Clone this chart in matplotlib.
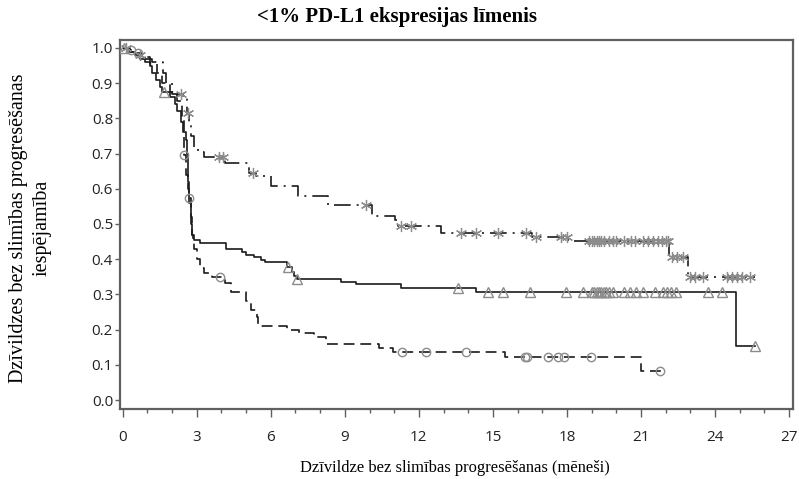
import numpy as np
import matplotlib
matplotlib.use("Agg")
import matplotlib.pyplot as plt
from matplotlib.ticker import MultipleLocator

# ---- data: Kaplan-Meier step curves (time in months, survival after step) ----
dd_t = [0, 0.3, 0.6, 0.9, 1.2, 1.65, 1.75, 2.0, 2.45, 2.6, 2.7, 2.75, 2.9, 3.05, 3.3,
        4.15, 5.1, 5.4, 6.0, 7.1, 8.3, 10.1, 11.05, 11.15, 12.9, 16.6, 18.05, 22.15, 22.9, 25.6]
dd_s = [1.0, 0.99, 0.98, 0.97, 0.96, 0.93, 0.90, 0.87, 0.86, 0.815, 0.78, 0.75, 0.72, 0.705, 0.69,
        0.673, 0.645, 0.635, 0.607, 0.58, 0.554, 0.523, 0.51, 0.494, 0.474, 0.464, 0.452, 0.407, 0.35, 0.35]
dd_cens = [0.15, 0.7, 2.35, 2.63, 3.9, 4.05, 5.27, 9.87, 11.26, 11.7, 13.7, 14.3, 15.2, 16.35,
           16.75, 17.75, 18.0, 18.9, 19.0, 19.1, 19.2, 19.3, 19.4, 19.5, 19.7, 19.85, 20.0, 20.3,
           20.6, 20.75, 21.1, 21.3, 21.5, 21.7, 21.85, 22.0, 22.1, 22.25, 22.45, 22.7, 23.0, 23.2,
           23.5, 24.5, 24.7, 24.9, 25.1, 25.4]

so_t = [0, 0.2, 0.5, 0.7, 0.9, 1.1, 1.2, 1.35, 1.5, 1.6, 1.9, 2.1, 2.2, 2.35, 2.45, 2.55, 2.6,
        2.65, 2.7, 2.75, 2.8, 2.9, 3.15, 4.2, 4.85, 5.0, 5.3, 5.6, 5.75, 6.65, 6.85, 6.95, 7.05,
        8.85, 9.45, 11.27, 14.3, 24.83, 25.6]
so_s = [1.0, 0.99, 0.98, 0.97, 0.96, 0.95, 0.93, 0.91, 0.89, 0.876, 0.86, 0.84, 0.82, 0.79,
        0.76, 0.74, 0.70, 0.62, 0.56, 0.50, 0.47, 0.455, 0.446, 0.43, 0.42, 0.413, 0.406, 0.398,
        0.392, 0.378, 0.365, 0.353, 0.345, 0.336, 0.33, 0.318, 0.307, 0.153, 0.153]
so_cens = [0.05, 1.69, 6.68, 7.07, 13.57, 14.8, 15.4, 16.5, 17.97, 18.65, 19.0, 19.1, 19.2,
           19.3, 19.4, 19.5, 19.6, 19.7, 19.85, 20.3, 20.55, 20.8, 21.1, 21.55, 21.9, 22.05,
           22.2, 22.4, 23.7, 24.3, 25.6]

da_t = [0, 0.2, 0.5, 0.8, 1.1, 1.4, 1.6, 1.9, 2.2, 2.4, 2.47, 2.5, 2.58, 2.66, 2.7, 2.75, 2.8,
        2.83, 2.9, 3.0, 3.15, 3.3, 3.6, 4.15, 4.4, 5.0, 5.2, 5.45, 5.5, 6.65, 7.15, 7.75, 8.25,
        10.4, 10.95, 15.5, 21.0, 21.8]
da_s = [1.0, 0.995, 0.985, 0.975, 0.955, 0.93, 0.90, 0.875, 0.85, 0.80, 0.75, 0.695, 0.64,
        0.60, 0.573, 0.52, 0.47, 0.45, 0.43, 0.40, 0.375, 0.36, 0.35, 0.333, 0.307, 0.28,
        0.255, 0.235, 0.21, 0.20, 0.19, 0.18, 0.159, 0.148, 0.137, 0.123, 0.083, 0.083]
da_cens = [0.35, 0.6, 2.5, 2.7, 3.93, 11.33, 12.3, 13.92, 16.3, 16.38, 17.23, 17.63, 17.87,
           18.96, 21.78]

xticks = [0, 3, 6, 9, 12, 15, 18, 21, 24, 27]
yticks = [0.0, 0.1, 0.2, 0.3, 0.4, 0.5, 0.6, 0.7, 0.8, 0.9, 1.0]

title = "<1% PD-L1 ekspresijas līmenis"
xlabel = "Dzīvildze bez slimības progresēšanas (mēneši)"
ylabel = "Dzīvildzes bez slimības progresēšanas\niespējamība"


def level_at(t_arr, s_arr, times):
    t_arr = np.asarray(t_arr)
    s_arr = np.asarray(s_arr)
    idx = np.searchsorted(t_arr, np.asarray(times), side="right") - 1
    return s_arr[np.clip(idx, 0, len(s_arr) - 1)]


fig = plt.figure(figsize=(7.99, 4.79), dpi=100)
ax = fig.add_axes([0.1502, 0.1461, 0.8423, 0.7704])

line_col = "#1a1a1a"
mark_col = "#8c8c8c"

# dash-dot curve
ax.step(dd_t, dd_s, where="post", color=line_col, lw=1.2,
        linestyle=(0, (10, 3.6, 1.2, 3.6)), zorder=3)
ax.plot(dd_cens, level_at(dd_t, dd_s, dd_cens), linestyle="none",
        marker=(6, 2, 0), markersize=8, markeredgecolor=mark_col, markeredgewidth=0.9,
        zorder=4)

# solid curve
ax.step(so_t, so_s, where="post", color=line_col, lw=1.2, linestyle="-", zorder=3)
ax.plot(so_cens, level_at(so_t, so_s, so_cens), linestyle="none",
        marker="^", markersize=6.5, markerfacecolor="none", markeredgecolor=mark_col,
        markeredgewidth=1.0, zorder=4)

# dashed curve
ax.step(da_t, da_s, where="post", color=line_col, lw=1.2,
        linestyle=(0, (6.5, 3.5)), zorder=3)
ax.plot(da_cens, level_at(da_t, da_s, da_cens), linestyle="none",
        marker="o", markersize=6, markerfacecolor="none", markeredgecolor=mark_col,
        markeredgewidth=1.0, zorder=4)

ax.set_xlim(-0.11, 27.16)
ax.set_ylim(-0.0256, 1.0227)
ax.set_xticks(xticks)
ax.set_yticks(yticks)
ax.set_yticklabels([f"{v:.1f}" for v in yticks])
ax.xaxis.set_minor_locator(MultipleLocator(1))

for sp in ax.spines.values():
    sp.set_color("#606060")
    sp.set_linewidth(1.6)

ax.tick_params(axis="both", which="major", direction="out", width=1.0,
               color="#606060", labelsize=11, labelcolor="#222222")
ax.tick_params(axis="x", which="major", length=5.5, pad=9.5)
ax.tick_params(axis="y", which="major", length=3.5, pad=1.5)
ax.tick_params(axis="x", which="minor", direction="out", length=3, width=1.0, color="#606060")
for lab in ax.get_xticklabels() + ax.get_yticklabels():
    lab.set_fontfamily("Open Sans")

serif = "Liberation Serif"
fig.text(0.497, 0.9645, title, ha="center", va="center",
         fontfamily=serif, fontweight="bold", fontsize=15)
fig.text(0.5695, 0.022, xlabel, ha="center", va="center", fontfamily=serif, fontsize=11.9)
fig.text(0.0376, 0.524, ylabel, ha="center", va="center", rotation=90, fontfamily=serif,
         fontsize=14.5, linespacing=1.3, multialignment="center")

fig.savefig("out.png", dpi=100)
